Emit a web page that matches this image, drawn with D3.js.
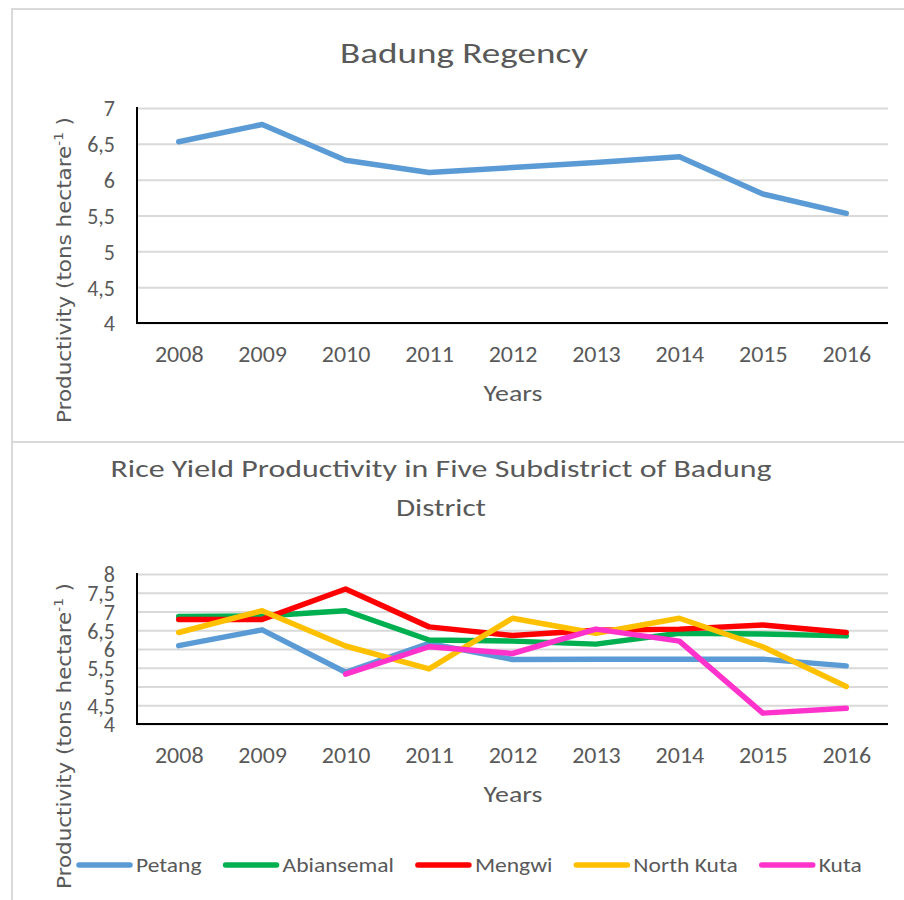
<!DOCTYPE html>
<html>
<head>
<meta charset="utf-8">
<script src="https://cdn.jsdelivr.net/npm/d3@7"></script>
<style>
    body { margin: 0; background: #fff; }
    text { fill: #595959; }
    .lbl { font-family: Carlito, Calibri, Lato, sans-serif; }
    .ytitle { font-family: "DejaVu Sans", sans-serif; }
</style>
</head>
<body>
<svg id="chart" width="904" height="900"></svg>
<script>
// data
const years = ["2008", "2009", "2010", "2011", "2012", "2013", "2014", "2015", "2016"];
const badung = [6.53, 6.77, 6.27, 6.10, 6.17, 6.24, 6.32, 5.80, 5.53];

const petang = [6.09, 6.51, 5.38, 6.15, 5.72, 5.73, 5.73, 5.73, 5.55];
const abiansemal = [6.87, 6.88, 7.02, 6.24, 6.21, 6.13, 6.42, 6.40, 6.35];
const mengwi = [6.79, 6.79, 7.60, 6.59, 6.36, 6.50, 6.53, 6.64, 6.44];
const northKuta = [6.44, 7.02, 6.08, 5.47, 6.82, 6.42, 6.82, 6.06, 5.00];
const kuta = [null, null, 5.33, 6.06, 5.88, 6.53, 6.21, 4.29, 4.42];

const seriesNames = ["Petang", "Abiansemal", "Mengwi", "North Kuta", "Kuta"];
const seriesColors = ["#5B9BD5", "#00B050", "#FF0000", "#FFC000", "#FF33CC"];

const topTicks = [4, 4.5, 5, 5.5, 6, 6.5, 7];
const bottomTicks = [4, 4.5, 5, 5.5, 6, 6.5, 7, 7.5, 8];

const svg = d3.select("#chart");
const fmt = d => String(d).replace(".", ",");

// the reference's text is a little wider than our font, so widen it
function stretch(sel, k) {
    sel.each(function () {
        let w = this.getComputedTextLength();
        d3.select(this)
            .attr("textLength", w * k)
            .attr("lengthAdjust", "spacingAndGlyphs");
    });
}

function fitTo(sel, w) {
    sel.attr("textLength", w).attr("lengthAdjust", "spacingAndGlyphs");
}

/** Class for one of the two line panels */
class Panel {
    constructor(cfg) {
        this.cfg = cfg;
        this.g = svg.append("g");
        this.x = d3.scalePoint().domain(years).range([137, 888]).padding(0.5);
        this.y = d3.scaleLinear().domain(cfg.domain).range([cfg.bottom, cfg.top]);
    }

    drawAxes() {
        let cfg = this.cfg;
        let g = this.g;

        // gridlines
        g.append("g")
            .attr("transform", "translate(137,0)")
            .call(d3.axisLeft(this.y).tickValues(cfg.ticks).tickSize(-751).tickFormat(""))
            .call(a => a.select(".domain").remove())
            .selectAll("line")
            .attr("stroke", "#D9D9D9")
            .attr("stroke-width", 2);

        // y labels
        g.append("g")
            .attr("transform", "translate(137,0)")
            .call(d3.axisLeft(this.y).tickValues(cfg.ticks).tickSize(0).tickPadding(22).tickFormat(fmt))
            .call(a => a.select(".domain").remove())
            .selectAll("text")
            .attr("class", "lbl")
            .attr("dy", "0.36em")
            .style("font-size", "22px")
            .attr("fill", "#595959");

        // x labels
        let xl = g.append("g")
            .attr("transform", "translate(0," + cfg.bottom + ")")
            .call(d3.axisBottom(this.x).tickSize(0))
            .call(a => a.select(".domain").remove())
            .selectAll("text")
            .attr("class", "lbl")
            .attr("dy", null)
            .attr("y", 39)
            .style("font-size", "22px")
            .attr("fill", "#595959");
        stretch(xl, 1.09);

        // black axis lines
        g.append("line")
            .attr("x1", 137).attr("x2", 137)
            .attr("y1", cfg.top - 1).attr("y2", cfg.bottom + 1)
            .attr("stroke", "#000").attr("stroke-width", 2);
        g.append("line")
            .attr("x1", 136).attr("x2", 888)
            .attr("y1", cfg.bottom).attr("y2", cfg.bottom)
            .attr("stroke", "#000").attr("stroke-width", 2);

        // axis titles
        g.append("text")
            .attr("class", "lbl")
            .attr("x", 513).attr("y", cfg.bottom + 78)
            .attr("text-anchor", "middle")
            .style("font-size", "23px")
            .text("Years")
            .call(fitTo, 59);

        let yt = g.append("text")
            .attr("class", "ytitle")
            .attr("transform", "translate(71," + cfg.yTitleMid + ") rotate(-90)")
            .attr("text-anchor", "middle")
            .style("font-size", "19px");
        yt.append("tspan").text("Productivity (tons hectare");
        yt.append("tspan").attr("dy", -8).style("font-size", "12px").text("-1");
        yt.append("tspan").attr("dy", 8).text(" )");
        fitTo(yt, 306);
    }

    drawLine(values, color) {
        let line = d3.line()
            .defined(d => d != null)
            .x((d, i) => this.x(years[i]))
            .y(d => this.y(d));

        this.g.append("path")
            .datum(values)
            .attr("d", line)
            .attr("fill", "none")
            .attr("stroke", color)
            .attr("stroke-width", 5.5)
            .attr("stroke-linejoin", "round")
            .attr("stroke-linecap", "round");
    }
}

// panel frames
svg.append("path")
    .attr("d", "M12,900 V9 H904 M12,442 H904")
    .attr("fill", "none")
    .attr("stroke", "#D9D9D9")
    .attr("stroke-width", 2);

// top chart
let topPanel = new Panel({domain: [4, 7], top: 108, bottom: 323, ticks: topTicks, yTitleMid: 270});
topPanel.drawAxes();
topPanel.drawLine(badung, "#5B9BD5");

svg.append("text")
    .attr("class", "lbl")
    .attr("x", 464).attr("y", 63)
    .attr("text-anchor", "middle")
    .style("font-size", "29px")
    .text("Badung Regency")
    .call(fitTo, 248);

// bottom chart
let bottomPanel = new Panel({domain: [4, 8], top: 574, bottom: 724, ticks: bottomTicks, yTitleMid: 736});
bottomPanel.drawAxes();
[petang, abiansemal, mengwi, northKuta, kuta].forEach((s, i) => {
    bottomPanel.drawLine(s, seriesColors[i]);
});

svg.append("text")
    .attr("class", "lbl")
    .attr("x", 441).attr("y", 477)
    .attr("text-anchor", "middle")
    .style("font-size", "24px")
    .text("Rice Yield Productivity in Five Subdistrict of Badung")
    .call(fitTo, 661);
svg.append("text")
    .attr("class", "lbl")
    .attr("x", 441).attr("y", 516)
    .attr("text-anchor", "middle")
    .style("font-size", "24px")
    .text("District")
    .call(fitTo, 90);

// legend, items flow left to right
let lx = 77;
seriesNames.forEach((name, i) => {
    svg.append("line")
        .attr("x1", lx + 2).attr("x2", lx + 53)
        .attr("y1", 865).attr("y2", 865)
        .attr("stroke", seriesColors[i])
        .attr("stroke-width", 5.5)
        .attr("stroke-linecap", "round");
    let t = svg.append("text")
        .attr("class", "lbl")
        .attr("x", lx + 59).attr("y", 872)
        .style("font-size", "21px")
        .text(name);
    let w = t.node().getComputedTextLength() * 1.12;
    fitTo(t, w);
    lx += 59 + w + 22;
});
</script>
</body>
</html>
